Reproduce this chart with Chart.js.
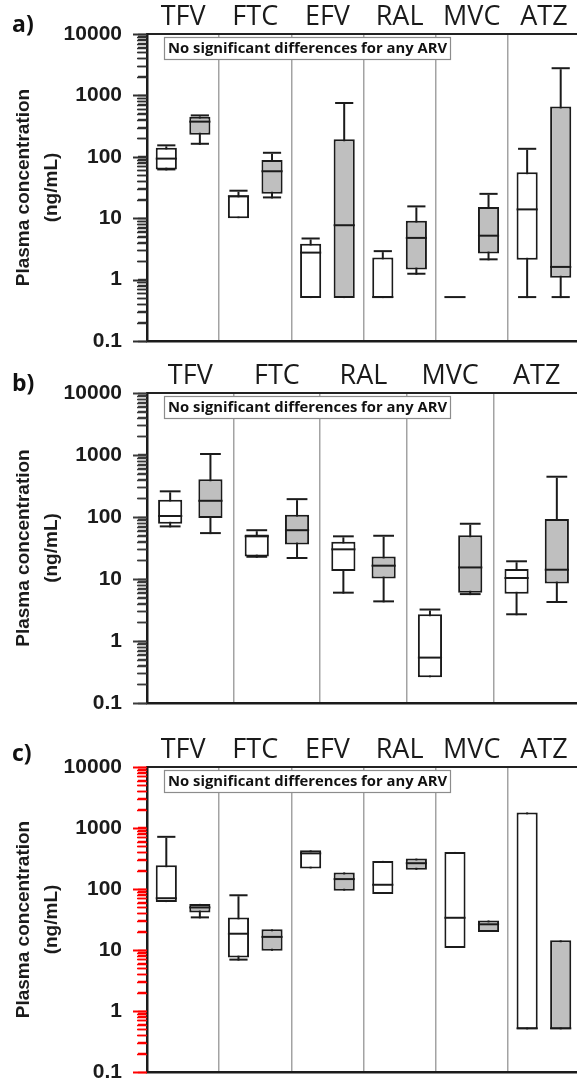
<!DOCTYPE html>
<html>
<head>
<meta charset="utf-8">
<script src="https://cdn.jsdelivr.net/npm/chart.js@4.4.1/dist/chart.umd.min.js"></script>
<style>
  html, body { margin: 0; padding: 0; background: #fff; }
  body { width: 577px; height: 1083px; position: relative; overflow: hidden; }
  .panel { position: absolute; left: 0; width: 580px; }
  .tag { position: absolute; left: 12px; font: bold 23px "Open Sans", sans-serif; line-height: 23px; color: #111; }
</style>
</head>
<body>
<div class="panel" style="top:0;height:355px"><canvas id="chartA"></canvas></div>
<div class="panel" style="top:359px;height:358px"><canvas id="chartB"></canvas></div>
<div class="panel" style="top:733px;height:351px"><canvas id="chartC"></canvas></div>
<div class="tag" style="top:12px">a)</div>
<div class="tag" style="top:371px">b)</div>
<div class="tag" style="top:741px">c)</div>
<script>
// ===== data (ng/mL), each row = [min, q1, median, q3, max] =====
const yDecades = [0.1, 1, 10, 100, 1000, 10000];
const yTitle = ['Plasma concentration', '(ng/mL)'];
const NOTE = 'No significant differences for any ARV';

const catsA = ['TFV', 'FTC', 'EFV', 'RAL', 'MVC', 'ATZ'];
const aWhite = [
  [60, 62, 90, 140, 148],
  [10, 10, 22, 23.5, 27],
  [0.5, 0.5, 2.65, 3.85, 4.5],
  [0.5, 0.5, 0.5, 2.3, 2.8],
  [0.5, 0.5, 0.5, 0.5, 0.5],
  [0.5, 2.1, 13.4, 56, 130]
];
const aGray = [
  [157, 228, 360, 450, 455],
  [21, 25, 56, 89, 112],
  [0.5, 0.5, 7.4, 194, 725],
  [1.2, 1.46, 4.6, 9.1, 15],
  [2.06, 2.65, 5.0, 15.2, 24],
  [0.5, 1.07, 1.55, 658, 2670]
];

const catsB = ['TFV', 'FTC', 'RAL', 'MVC', 'ATZ'];
const bWhite = [
  [68, 78, 100, 190, 250],
  [22, 23, 47, 52, 59],
  [5.8, 13.5, 29, 40, 47],
  [0.26, 0.26, 0.52, 2.7, 3.1],
  [2.6, 5.8, 10, 14.5, 18.6]
];
const bGray = [
  [53, 96, 176, 405, 1000],
  [21, 36, 59, 109, 187],
  [4.2, 10.2, 15.8, 23, 48],
  [5.5, 6.0, 14.8, 51, 75],
  [4.1, 8.5, 13.6, 93, 430]
];

const catsC = ['TFV', 'FTC', 'EFV', 'RAL', 'MVC', 'ATZ'];
const cWhite = [
  [61, 61, 68, 245, 690],
  [6.7, 7.5, 17.8, 34, 76],
  [217, 217, 370, 430, 430],
  [83, 83, 113, 289, 289],
  [10.8, 10.8, 32.5, 405, 405],
  [0.5, 0.5, 0.5, 1800, 1800]
];
const cGray = [
  [33, 41, 48, 57, 57],
  [9.7, 9.7, 15.8, 21.8, 21.8],
  [94, 94, 140, 187, 187],
  [206, 206, 255, 315, 315],
  [19.8, 19.8, 25.4, 30.5, 30.5],
  [0.5, 0.5, 0.5, 14.4, 14.4]
];

// ===== styling =====
const INK = '#1b1b1b';
const GRAY_FILL = '#bfbfbf';
const SEP = '#a3a3a3';

function logTicks() {
  const out = [];
  yDecades.forEach((d, i) => {
    out.push({ value: d, major: true });
    if (i < yDecades.length - 1) {
      for (let m = 2; m <= 9; m++) out.push({ value: +(d * m).toPrecision(3), major: false });
    }
  });
  return out;
}

function boxSeries(rows, fill, stack, cp, bp) {
  const common = { xAxisID: 'x', yAxisID: 'y', stack, categoryPercentage: cp, barPercentage: bp, borderSkipped: false };
  return [
    { ...common, order: 1, data: rows.map(r => [r[2], r[2]]), backgroundColor: INK, minBarLength: 2 },
    { ...common, order: 1, barPercentage: bp * 0.86, data: rows.map(r => r[4] > r[3] ? [r[4], r[4]] : null), backgroundColor: INK, minBarLength: 2 },
    { ...common, order: 1, barPercentage: bp * 0.86, data: rows.map(r => r[0] < r[1] ? [r[0], r[0]] : null), backgroundColor: INK, minBarLength: 2 },
    { ...common, order: 2, data: rows.map(r => [r[1], r[3]]), backgroundColor: fill, borderColor: INK, borderWidth: 2 },
    { ...common, order: 3, data: rows.map(r => [r[0], r[4]]), backgroundColor: INK, maxBarThickness: 2 }
  ];
}

function tickPlugin(color) {
  return {
    id: 'yTickMarks',
    afterDraw(chart) {
      const s = chart.scales.y;
      const ctx = chart.ctx;
      ctx.save();
      ctx.strokeStyle = color;
      s.ticks.forEach(t => {
        const py = Math.round(s.getPixelForValue(t.value)) + 0.5;
        ctx.lineWidth = t.major ? 2 : 1.5;
        ctx.beginPath();
        ctx.moveTo(s.right - (t.major ? 14 : 10), py);
        ctx.lineTo(s.right, py);
        ctx.stroke();
      });
      ctx.restore();
    }
  };
}

const notePlugin = {
  id: 'note',
  afterDatasetsDraw(chart) {
    const { ctx, chartArea } = chart;
    const x = chartArea.left + 17, y = chartArea.top + 3, w = 286, h = 22;
    ctx.save();
    ctx.fillStyle = '#fff';
    ctx.fillRect(x, y, w, h);
    ctx.strokeStyle = '#8c8c8c';
    ctx.lineWidth = 1.2;
    ctx.strokeRect(x + 0.5, y + 0.5, w, h);
    ctx.font = 'bold 14.8px "Open Sans", sans-serif';
    ctx.fillStyle = '#111';
    ctx.textBaseline = 'middle';
    ctx.fillText(NOTE, x + 4, y + h / 2 + 1);
    ctx.restore();
  }
};

function makePanel(id, cats, white, gray, cp, bp, bottomH, markColor) {
  const datasets = [...boxSeries(white, '#ffffff', 'w', cp, bp), ...boxSeries(gray, GRAY_FILL, 'g', cp, bp)];
  return new Chart(document.getElementById(id), {
    type: 'bar',
    data: { labels: cats, datasets },
    options: {
      responsive: true,
      maintainAspectRatio: false,
      animation: false,
      events: [],
      plugins: { legend: { display: false }, tooltip: { enabled: false } },
      scales: {
        x: {
          type: 'category',
          position: 'bottom',
          offset: true,
          grid: { offset: true, drawTicks: false, color: SEP, lineWidth: 1.5 },
          ticks: { display: false },
          border: { color: INK, width: 2.5 },
          afterFit: s => { s.height = bottomH; }
        },
        xTop: {
          type: 'category',
          position: 'top',
          labels: cats,
          offset: true,
          grid: { display: false, drawTicks: false },
          ticks: { autoSkip: false, maxRotation: 0, padding: 0, color: '#1a1a1a', font: { family: '"Open Sans", sans-serif', size: 27 } },
          border: { color: '#222', width: 2 },
          afterFit: s => { s.height = 34; }
        },
        y: {
          type: 'logarithmic',
          position: 'left',
          min: 0.1,
          max: 10000,
          stacked: false,
          afterBuildTicks: s => { s.ticks = logTicks(); },
          ticks: {
            autoSkip: false,
            padding: 16,
            color: INK,
            font: { weight: 'bold', size: 21 },
            callback: v => yDecades.includes(v) ? String(v) : ''
          },
          grid: { drawOnChartArea: false, drawTicks: true, tickLength: 9, tickColor: markColor, tickWidth: 1.5 },
          border: { display: true, color: INK, width: 2.5 },
          title: {
            display: true,
            text: yTitle,
            color: INK,
            font: { weight: 'bold', size: 19, lineHeight: 1.47 },
            padding: { top: 10, bottom: 0 }
          },
          afterFit: s => { s.width = 147; s.paddingTop = 0; s.paddingBottom = 0; }
        }
      }
    },
    plugins: [tickPlugin(markColor), notePlugin]
  });
}

makePanel('chartA', catsA, aWhite, aGray, 0.93, 0.63, 14, '#303030');
makePanel('chartB', catsB, bWhite, bGray, 0.93, 0.6, 14, 'rgb(60,60,60)');
makePanel('chartC', catsC, cWhite, cGray, 0.93, 0.63, 12, 'red');
</script>
</body>
</html>
